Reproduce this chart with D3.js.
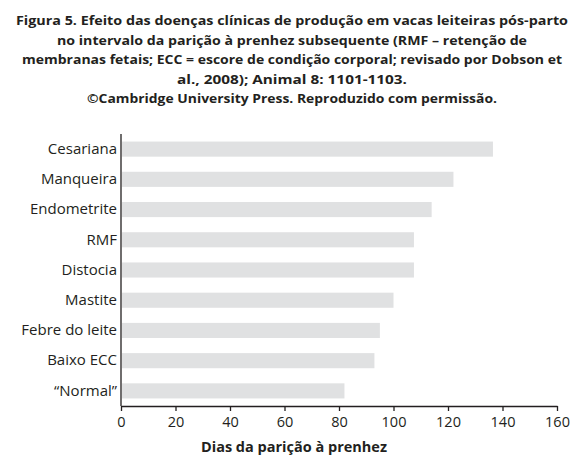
<!DOCTYPE html><html><head><meta charset="utf-8"><script src="https://cdn.jsdelivr.net/npm/d3@7"></script>
<style>body{margin:0;background:#fff}text{font-family:"Open Sans",sans-serif}</style></head><body><svg id="c" width="585" height="462"></svg>
<script>
const categories=["Cesariana","Manqueira","Endometrite","RMF","Distocia","Mastite","Febre do leite","Baixo ECC","“Normal”"];
const values=[136.5,122,114,107.5,107.5,100,95,93,82];
const ticks=[0,20,40,60,80,100,120,140,160];
const titleLines=["Figura 5. Efeito das doenças clínicas de produção em vacas leiteiras pós-parto","no intervalo da parição à prenhez subsequente (RMF – retenção de","membranas fetais; ECC = escore de condição corporal; revisado por Dobson et","al., 2008); Animal 8: 1101-1103.","©Cambridge University Press. Reproduzido com permissão."];
const svg=d3.select("#c");
svg.selectAll(".t").data(titleLines).join("text").attr("x",292).attr("y",(d,i)=>25+i*19.5)
 .attr("text-anchor","middle").attr("font-size",13.2).attr("font-weight","bold").attr("fill","#231f20")
 .attr("textLength",(d,i)=>[552,470,540,230,410][i]).attr("lengthAdjust","spacingAndGlyphs").text(d=>d);
const x=d3.scaleLinear().domain([0,160]).range([121,557]);
const y=d3.scaleBand().domain(categories).range([134,406]).paddingInner(0.5).paddingOuter(0.25);
svg.selectAll(".b").data(values).join("rect").attr("x",x(0)+1).attr("y",(d,i)=>y(categories[i]))
 .attr("width",d=>x(d)-x(0)-1).attr("height",y.bandwidth()).attr("fill","#e0e1e2");
const ax=svg.append("g").attr("transform","translate(0,406)").call(d3.axisBottom(x).tickValues(ticks).tickSize(5).tickSizeOuter(0));
ax.selectAll("text").attr("font-size",14.5).attr("fill","#231f20").attr("dy","0.9em");
ax.selectAll("line,path").attr("stroke","#231f20").attr("stroke-width",1.3);
const ay=svg.append("g").attr("transform","translate(121,0)").call(d3.axisLeft(y).tickSize(0).tickSizeOuter(0));
ay.select("path").attr("stroke","#231f20").attr("stroke-width",1.3).attr("d","M0,134V406");
ay.selectAll("text").attr("font-size",15).attr("fill","#231f20").attr("dx","-1");
svg.append("text").attr("x",294).attr("y",452).attr("text-anchor","middle").attr("font-size",14.5).attr("font-weight","bold").attr("fill","#231f20").text("Dias da parição à prenhez");
</script></body></html>
